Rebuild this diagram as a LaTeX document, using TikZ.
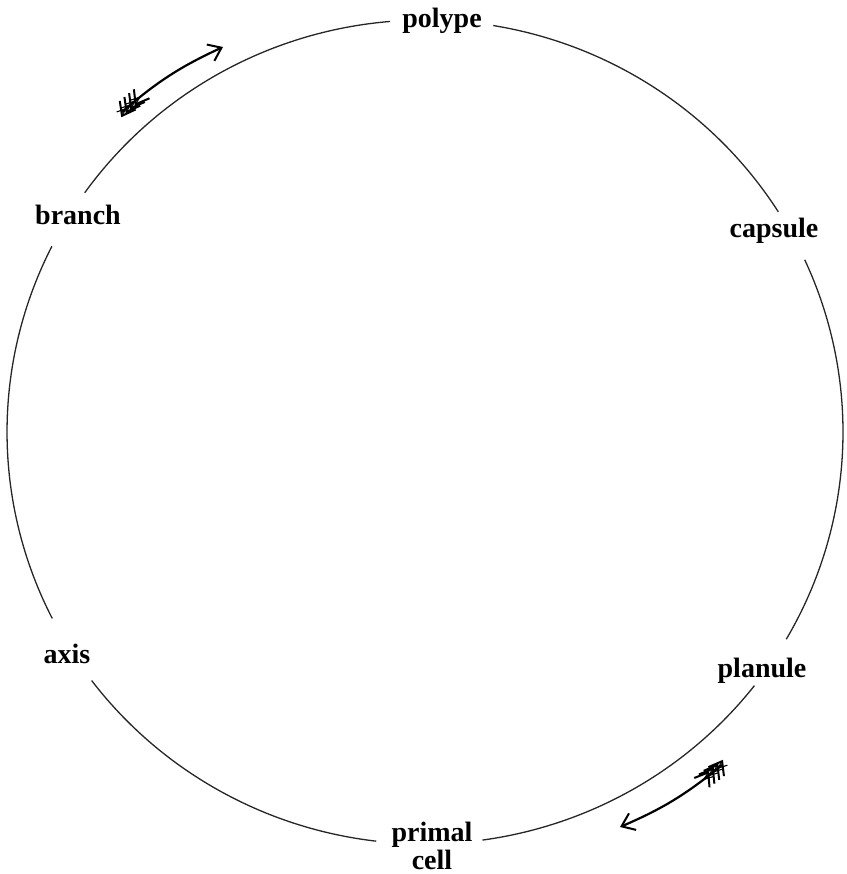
\documentclass[tikz,border=0pt]{standalone}
\usepackage{fontspec}
\setmainfont{Liberation Serif}
\usetikzlibrary{arrows.meta,decorations.markings}
\begin{document}
\begin{tikzpicture}[x=1pt,y=1pt,
  lbl/.style={font=\bfseries\fontsize{28}{28}\selectfont, inner sep=0pt, anchor=base},
  ring/.style={line width=1.3pt, black!85},
  feather/.style={line width=1.1pt},
  cyc/.style={line width=2.2pt, -{Straight Barb[length=12pt,width=18pt,line width=2pt]},
    postaction=decorate,
    decoration={markings,
      mark=at position 5pt with {\draw[feather] (-9,3.5)--(0,0)--(-9,-3.5);},
      mark=at position 11pt with {\draw[feather] (-9,3.5)--(0,0)--(-9,-3.5);},
      mark=at position 17pt with {\draw[feather] (-9,3.5)--(0,0)--(-9,-3.5);},
      mark=at position 23pt with {\draw[feather] (-9,3.5)--(0,0)--(-9,-3.5);}}}]
\useasboundingbox (0,0) rectangle (846,-874);
\coordinate (O) at (425,-432);
% labels
\node[lbl] (polype) at (442,-28) {polype};
\node[lbl] (branch) at (78,-225) {branch};
\node[lbl] (capsule) at (774,-238) {capsule};
\node[lbl] (axis) at (67,-663) {axis};
\node[lbl] (planule) at (762,-677) {planule};
\node[lbl, align=center, anchor=base] (primal) at (432,-869) {primal\\cell};
% ring arcs between labels
\draw[ring] ([shift={(94.8:418pt and 412pt)}]O) arc[start angle=94.8, end angle=144.5, x radius=418pt, y radius=412pt];
\draw[ring] ([shift={(153.2:418pt and 412pt)}]O) arc[start angle=153.2, end angle=206.9, x radius=418pt, y radius=412pt];
\draw[ring] ([shift={(217.1:418pt and 412pt)}]O) arc[start angle=217.1, end angle=263.3, x radius=418pt, y radius=412pt];
\draw[ring] ([shift={(277.9:418pt and 412pt)}]O) arc[start angle=277.9, end angle=322.0, x radius=418pt, y radius=412pt];
\draw[ring] ([shift={(-30.2:418pt and 412pt)}]O) arc[start angle=-30.2, end angle=24.7, x radius=418pt, y radius=412pt];
\draw[ring] ([shift={(32.3:418pt and 412pt)}]O) arc[start angle=32.3, end angle=80.6, x radius=418pt, y radius=412pt];
% direction arrows
\coordinate (a1s) at (122,-112);
\coordinate (a1e) at (223,-47);
\draw[cyc] (a1s) to[bend left=8] (a1e);
\coordinate (a2s) at (722,-765);
\coordinate (a2e) at (620,-827);
\draw[cyc] (a2s) to[bend left=8] (a2e);
\end{tikzpicture}
\end{document}
